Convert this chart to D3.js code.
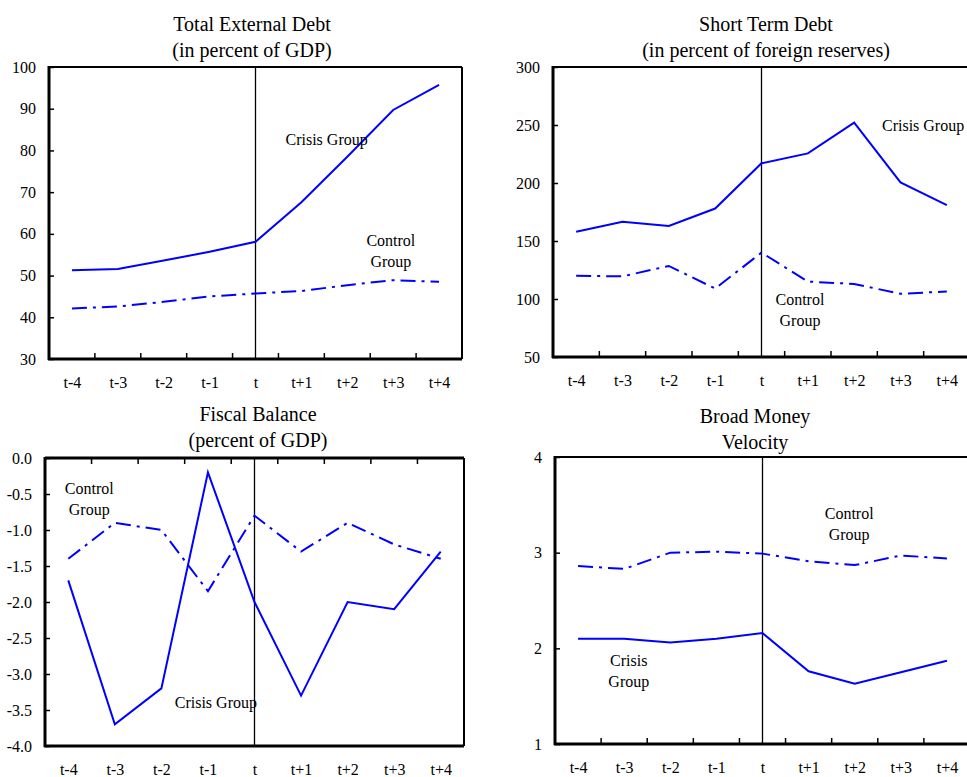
<!DOCTYPE html>
<html>
<head>
<meta charset="utf-8">
<script src="https://cdn.jsdelivr.net/npm/d3@7"></script>
<style>
  html, body { margin: 0; padding: 0; background: #fff; }
  svg { display: block; }
  text { font-family: "Liberation Serif", "Times New Roman", serif; fill: #000; }
</style>
</head>
<body>
<svg id="chart" width="967" height="777"></svg>
<script>
// ---------------- DATA ----------------
const categories = ["t-4", "t-3", "t-2", "t-1", "t", "t+1", "t+2", "t+3", "t+4"];

// Total External Debt (in percent of GDP)
const debtCrisis  = [51.3, 51.6, 53.6, 55.7, 58.1, 67.6, 78.5, 89.7, 95.7];
const debtControl = [42.1, 42.6, 43.7, 45.0, 45.7, 46.3, 47.7, 48.9, 48.5];
const debtTicks   = [30, 40, 50, 60, 70, 80, 90, 100];

// Short Term Debt (in percent of foreign reserves)
const stdCrisis  = [158, 166.5, 163, 178, 217, 225.5, 252, 200.5, 181];
const stdControl = [120, 119.5, 128.5, 109, 140, 115, 113, 104.5, 106.5];
const stdTicks   = [50, 100, 150, 200, 250, 300];

// Fiscal Balance (percent of GDP)
const fiscalCrisis  = [-1.7, -3.7, -3.2, -0.2, -2.0, -3.3, -2.0, -2.1, -1.3];
const fiscalControl = [-1.4, -0.9, -1.0, -1.85, -0.8, -1.3, -0.9, -1.2, -1.4];
const fiscalTicks   = [-4.0, -3.5, -3.0, -2.5, -2.0, -1.5, -1.0, -0.5, 0.0];

// Broad Money Velocity
const velCrisis  = [2.1, 2.1, 2.06, 2.1, 2.16, 1.76, 1.63, 1.75, 1.87];
const velControl = [2.86, 2.83, 3.0, 3.01, 2.99, 2.91, 2.87, 2.97, 2.94];
const velTicks   = [1, 2, 3, 4];

// ---------------- PANELS ----------------
const panels = [
  {
    title: ["Total External Debt", "(in percent of GDP)"], titleX: 252, titleDy: [-36, -10],
    box: { left: 49, right: 462, top: 67, bottom: 359 },
    domain: [30, 100], ticks: debtTicks, fmt: v => String(v),
    crisis: debtCrisis, control: debtControl, xTickSide: "bottom",
    labels: [
      { lines: ["Crisis Group"], xi: 5.55, y: 81.3, anchor: "middle" },
      { lines: ["Control", "Group"], xi: 6.95, y: 57.1, anchor: "middle" }
    ]
  },
  {
    title: ["Short Term Debt", "(in percent of foreign reserves)"], titleX: 766, titleDy: [-36, -10],
    box: { left: 553, right: 970, top: 67, bottom: 357 },
    domain: [50, 300], ticks: stdTicks, fmt: v => String(v),
    crisis: stdCrisis, control: stdControl, xTickSide: "bottom",
    labels: [
      { lines: ["Crisis Group"], xi: 6.6, y: 244.8, anchor: "start" },
      { lines: ["Control", "Group"], xi: 4.83, y: 94.8, anchor: "middle" }
    ]
  },
  {
    title: ["Fiscal Balance", "(percent of GDP)"], titleX: 258, titleDy: [-37, -11],
    box: { left: 45, right: 464, top: 458, bottom: 746 },
    domain: [-4, 0], ticks: fiscalTicks, fmt: v => v.toFixed(1),
    crisis: fiscalCrisis, control: fiscalControl, xTickSide: "top",
    labels: [
      { lines: ["Control", "Group"], xi: 0.45, y: -0.5, anchor: "middle" },
      { lines: ["Crisis Group"], xi: 3.17, y: -3.47, anchor: "middle" }
    ]
  },
  {
    title: ["Broad Money", "Velocity"], titleX: 755, titleDy: [-34, -8],
    box: { left: 555, right: 970, top: 457, bottom: 744 },
    domain: [1, 4], ticks: velTicks, fmt: v => String(v),
    crisis: velCrisis, control: velControl, xTickSide: "bottom",
    labels: [
      { lines: ["Control", "Group"], xi: 5.88, y: 3.35, anchor: "middle" },
      { lines: ["Crisis", "Group"], xi: 1.1, y: 1.815, anchor: "middle" }
    ]
  }
];

const svg = d3.select("#chart");
svg.append("rect").attr("width", 967).attr("height", 777).attr("fill", "#fff");

const lineColor = "#0000ff";
const serif = '"Liberation Serif", "Times New Roman", serif';

panels.forEach(p => {
  const b = p.box;
  const g = svg.append("g");
  const x = d3.scalePoint().domain(categories).range([b.left, b.right]).padding(0.5);
  const y = d3.scaleLinear().domain(p.domain).range([b.bottom, b.top]);
  const step = x.step();
  const xFrac = xi => x(categories[0]) + xi * step;

  // Title
  p.title.forEach((t, i) => {
    g.append("text").attr("x", p.titleX).attr("y", b.top + p.titleDy[i])
      .attr("text-anchor", "middle").attr("font-size", 20)
      .style("font-family", serif).text(t);
  });

  // Y axis (labels + inward ticks)
  const yAxis = d3.axisLeft(y).tickValues(p.ticks).tickFormat(p.fmt)
    .tickSize(-5).tickPadding(13);
  const ya = g.append("g").attr("transform", `translate(${b.left},0)`).call(yAxis);
  ya.select(".domain").remove();
  ya.selectAll(".tick line").attr("stroke", "#000").attr("stroke-width", 1.5);
  ya.selectAll("text").attr("font-size", 16).style("font-family", serif).attr("fill", "#000");

  // X axis labels
  const xAxis = d3.axisBottom(x).tickSize(0).tickPadding(17.5);
  const xa = g.append("g").attr("transform", `translate(0,${b.bottom})`).call(xAxis);
  xa.select(".domain").remove();
  xa.selectAll("text").attr("font-size", 16).style("font-family", serif).attr("fill", "#000");

  // Category boundary ticks
  const bounds = categories.slice(0, -1).map(c => x(c) + step / 2);
  const y0 = p.xTickSide === "top" ? b.top : b.bottom;
  const dir = p.xTickSide === "top" ? 1 : -1;
  g.selectAll(".btick").data(bounds).enter().append("line")
    .attr("x1", d => d).attr("x2", d => d)
    .attr("y1", y0).attr("y2", y0 + dir * 6)
    .attr("stroke", "#000").attr("stroke-width", 1.5);

  // Vertical line at t
  g.append("line")
    .attr("x1", x("t")).attr("x2", x("t"))
    .attr("y1", b.top).attr("y2", b.bottom)
    .attr("stroke", "#000").attr("stroke-width", 1.3);

  // Frame
  const thickTop = p.xTickSide === "top";
  g.append("line").attr("x1", b.left).attr("x2", b.right).attr("y1", b.top).attr("y2", b.top)
    .attr("stroke", "#000").attr("stroke-width", thickTop ? 3 : 2);
  g.append("line").attr("x1", b.right).attr("x2", b.right).attr("y1", b.top).attr("y2", b.bottom)
    .attr("stroke", "#000").attr("stroke-width", 2);
  g.append("line").attr("x1", b.left - 1).attr("x2", b.right).attr("y1", b.bottom).attr("y2", b.bottom)
    .attr("stroke", "#000").attr("stroke-width", 3);
  g.append("line").attr("x1", b.left).attr("x2", b.left).attr("y1", b.top - 1).attr("y2", b.bottom + 1)
    .attr("stroke", "#000").attr("stroke-width", 3);

  // Series lines
  const line = d3.line().x((d, i) => x(categories[i])).y(d => y(d));
  g.append("path").datum(p.control).attr("d", line)
    .attr("fill", "none").attr("stroke", lineColor).attr("stroke-width", 2)
    .attr("stroke-dasharray", "15,6,3,6");
  g.append("path").datum(p.crisis).attr("d", line)
    .attr("fill", "none").attr("stroke", lineColor).attr("stroke-width", 2);

  // Annotations
  p.labels.forEach(l => {
    l.lines.forEach((t, i) => {
      g.append("text").attr("x", xFrac(l.xi)).attr("y", y(l.y) + i * 21)
        .attr("text-anchor", l.anchor).attr("font-size", 16)
        .style("font-family", serif).text(t);
    });
  });
});
</script>
</body>
</html>
